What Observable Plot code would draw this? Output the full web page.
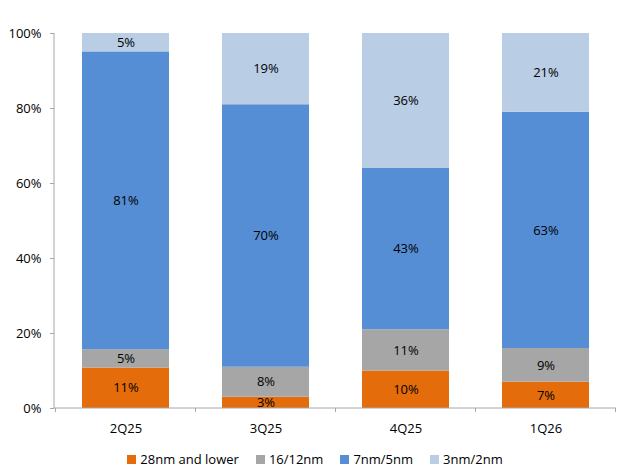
<!DOCTYPE html>
<html>
<head>
<meta charset="utf-8">
<script src="https://cdn.jsdelivr.net/npm/d3@7"></script>
<script src="https://cdn.jsdelivr.net/npm/@observablehq/plot@0.6"></script>
<style>
  body { margin: 0; background: #fff; font-family: "Open Sans", Lato, sans-serif; }
  #chart svg { display: block; }
  .legend { display: flex; justify-content: center; gap: 17px; margin-top: 11px; font-size: 13px; line-height: 16px; color: #000; padding-left: 4px; }
  .legend span.item { display: flex; align-items: center; }
  .legend span.sw { width: 9px; height: 9px; display: inline-block; margin-right: 4px; }
</style>
</head>
<body>
<div id="chart"></div>
<div class="legend" id="legend"></div>
<script>
const quarters = ["2Q25", "3Q25", "4Q25", "1Q26"];
const series = ["28nm and lower", "16/12nm", "7nm/5nm", "3nm/2nm"];
const colors = ["#E46C0A", "#A6A6A6", "#558ED5", "#B9CDE5"];
// share (%) per series, one value per quarter
const s28 = [11, 3, 10, 7];
const s16 = [5, 8, 11, 9];
const s7 = [81, 70, 43, 63];
const s3 = [5, 19, 36, 21];
const yTicks = [0, 0.2, 0.4, 0.6, 0.8, 1];

const seriesValues = [s28, s16, s7, s3];
const data = [];
series.forEach((s, i) => {
  quarters.forEach((q, j) => {
    data.push({quarter: q, series: s, value: seriesValues[i][j]});
  });
});

const axisColor = "#A6A6A6";
const font = "'Open Sans', Lato, sans-serif";
const chart = Plot.plot({
  width: 626,
  height: 440,
  marginTop: 33,
  marginBottom: 32,
  marginLeft: 54,
  marginRight: 10,
  style: {fontFamily: font, fontSize: "13px", color: "#000", background: "#fff"},
  x: {domain: quarters, paddingInner: 0.38, paddingOuter: 0.19, label: null},
  y: {domain: [0, 1], label: null},
  color: {domain: series, range: colors},
  marks: [
    Plot.barY(data, Plot.stackY({
      x: "quarter", y: "value", z: "series", fill: "series", offset: "normalize"
    })),
    Plot.text(data, Plot.stackY({
      x: "quarter", y: "value", z: "series", offset: "normalize",
      text: d => d.value + "%", fill: "#000", fontSize: 13
    })),
    Plot.axisY({ticks: yTicks, tickFormat: d => Math.round(d * 100) + "%", tickSize: 4, tickPadding: 9, stroke: axisColor, fill: "#000", fontSize: 13}),
    Plot.axisX({tickSize: 0, tickPadding: 15, fill: "#000", fontSize: 13})
  ]
});

// axis lines and category boundary ticks derived from the scales
const xs = chart.scale("x");
const ys = chart.scale("y");
const svg = d3.select(chart.tagName === "svg" ? chart : chart.querySelector("svg"));
const x0 = xs.range[0], x1 = xs.range[1];
const y0 = ys.apply(0), y1 = ys.apply(1);
const g = svg.append("g").attr("stroke", axisColor).attr("stroke-width", 1);
g.append("line").attr("x1", x0).attr("x2", x0).attr("y1", y0).attr("y2", y1);
g.append("line").attr("x1", x0).attr("x2", x1).attr("y1", y0).attr("y2", y0);
const half = (xs.step - xs.bandwidth) / 2;
const bounds = quarters.map(q => xs.apply(q) - half).concat([xs.apply(quarters[quarters.length - 1]) + xs.bandwidth + half]);
bounds.forEach(b => {
  g.append("line").attr("x1", b).attr("x2", b).attr("y1", y0).attr("y2", y0 + 4);
});

document.getElementById("chart").appendChild(chart);

const legend = document.getElementById("legend");
series.forEach((s, i) => {
  const item = document.createElement("span");
  item.className = "item";
  const sw = document.createElement("span");
  sw.className = "sw";
  sw.style.background = colors[i];
  item.appendChild(sw);
  item.appendChild(document.createTextNode(s));
  legend.appendChild(item);
});
</script>
</body>
</html>
